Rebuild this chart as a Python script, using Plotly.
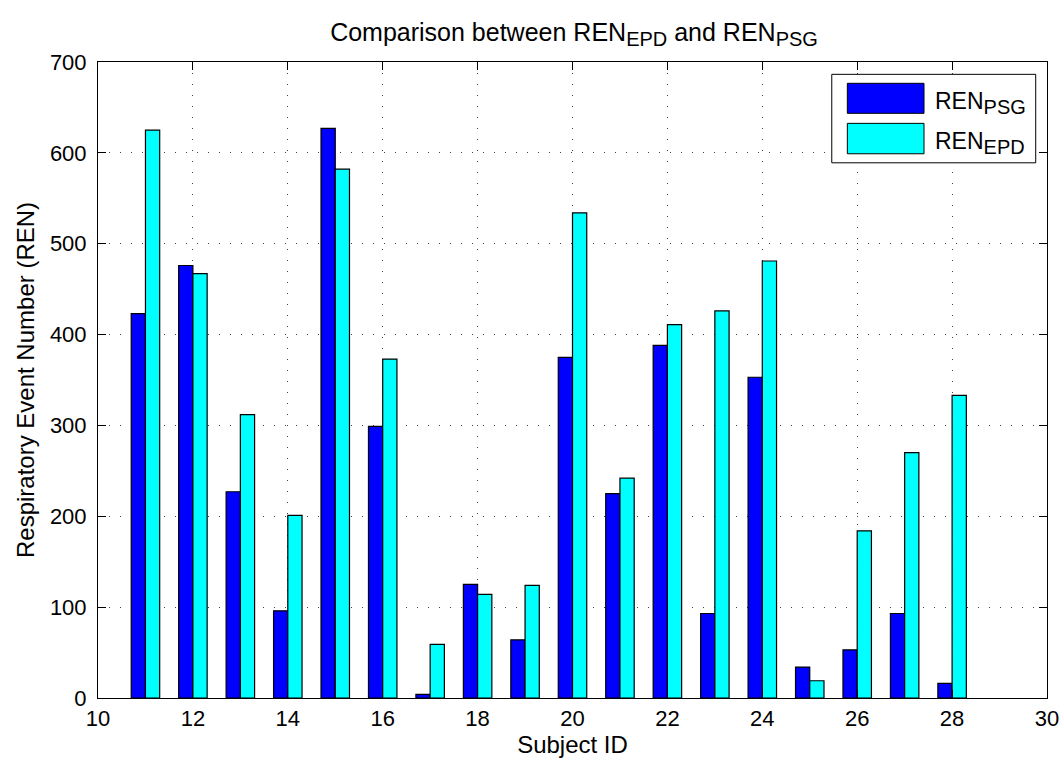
import plotly.graph_objects as go

subjects = list(range(11, 29))
ren_psg = [423, 476, 227, 96, 627, 299, 4, 125, 64, 375, 225, 388, 93, 353, 34, 53, 93, 16]
ren_epd = [625, 467, 312, 201, 582, 373, 59, 114, 124, 534, 242, 411, 426, 481, 19, 184, 270, 333]

font_family = "Liberation Sans, Arial, Helvetica, sans-serif"


def sub(txt, size):
    return f"<sub><span style='font-size:{size}px'>{txt}</span></sub>"


fig = go.Figure()
fig.add_trace(go.Bar(x=subjects, y=ren_psg, name="REN_PSG",
                     marker=dict(color="#0000FF", line=dict(color="black", width=1.2))))
fig.add_trace(go.Bar(x=subjects, y=ren_epd, name="REN_EPD",
                     marker=dict(color="#00FFFF", line=dict(color="black", width=1.2))))

axis_common = dict(
    showline=True, linecolor="black", linewidth=1, mirror="allticks",
    ticks="inside", ticklen=8, tickcolor="black",
    showgrid=True, gridcolor="#444444", gridwidth=1, griddash="1px,10px",
    zeroline=False, automargin=False,
    tickfont=dict(family=font_family, size=22, color="black"),
)

fig.update_layout(
    width=1063, height=759,
    margin=dict(l=98, r=16, t=62, b=61),
    paper_bgcolor="white", plot_bgcolor="white",
    barmode="group", bargap=0.4, bargroupgap=0,
    showlegend=False,
    title=dict(text="Comparison between REN" + sub("EPD", 20) + " and REN" + sub("PSG", 20),
               x=0.54, xanchor="center", y=0.958, yanchor="middle",
               font=dict(family=font_family, size=25, color="black")),
    xaxis=dict(range=[10, 30], dtick=2, tick0=10, ticklabelstandoff=1,
               title=dict(text="Subject ID", standoff=2,
                          font=dict(family=font_family, size=24, color="black")),
               **axis_common),
    yaxis=dict(range=[0, 700], dtick=100, tick0=0, ticklabelstandoff=6,
               title=dict(text="Respiratory Event Number (REN)", standoff=8,
                          font=dict(family=font_family, size=24, color="black")),
               **axis_common),
)

# Legend box drawn manually (MATLAB style)
shapes = [
    dict(type="rect", xref="paper", yref="paper", x0=0.7732, x1=0.9881, y0=0.8415, y1=0.9806,
         line=dict(color="black", width=1), fillcolor="white", layer="above"),
    dict(type="rect", xref="paper", yref="paper", x0=0.7896, x1=0.8704, y0=0.9193, y1=0.9665,
         line=dict(color="black", width=1), fillcolor="#0000FF", layer="above"),
    dict(type="rect", xref="paper", yref="paper", x0=0.7896, x1=0.8704, y0=0.8557, y1=0.9035,
         line=dict(color="black", width=1), fillcolor="#00FFFF", layer="above"),
]
fig.update_layout(shapes=shapes)
fig.add_annotation(xref="paper", yref="paper", x=0.8802, y=0.936, xanchor="left", yanchor="middle",
                   text="REN" + sub("PSG", 20), showarrow=False,
                   font=dict(family=font_family, size=23, color="black"))
fig.add_annotation(xref="paper", yref="paper", x=0.8802, y=0.873, xanchor="left", yanchor="middle",
                   text="REN" + sub("EPD", 20), showarrow=False,
                   font=dict(family=font_family, size=23, color="black"))

fig.write_html("out.html")
